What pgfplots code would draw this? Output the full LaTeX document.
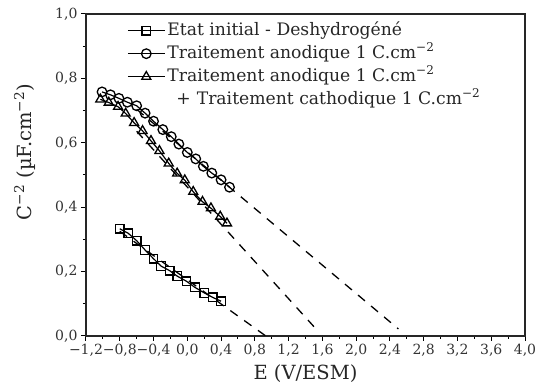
\documentclass[border=0pt]{standalone}
\usepackage{fontspec}
\setmainfont{DejaVu Serif}
\usepackage{pgfplots}
\pgfplotsset{compat=1.18}
\begin{document}
\begin{tikzpicture}
\useasboundingbox (0,0) rectangle (545pt,390pt);
\begin{axis}[
  at={(86pt,54pt)}, anchor=south west,
  scale only axis, width=439pt, height=322pt,
  xmin=-1.2, xmax=4.0, ymin=0, ymax=1.0,
  xtick={-1.2,-0.8,-0.4,0,0.4,0.8,1.2,1.6,2.0,2.4,2.8,3.2,3.6,4.0},
  xticklabels={{−1,2},{−0,8},{−0,4},{0,0},{0,4},{0,8},{1,2},{1,6},{2,0},{2,4},{2,8},{3,2},{3,6},{4,0}},
  ytick={0,0.2,0.4,0.6,0.8,1.0},
  yticklabels={{0,0},{0,2},{0,4},{0,6},{0,8},{1,0}},
  minor x tick num=1, minor y tick num=1,
  tick align=outside, xtick pos=left, ytick pos=left,
  major tick length=5pt, minor tick length=3pt,
  every tick/.style={black, line width=1pt},
  axis line style={line width=1.3pt, black!85},
  tick label style={font=\fontsize{14}{16}\selectfont, text=black!80},
  xlabel={E (V/ESM)},
  ylabel={C\textsuperscript{−2} (µF.cm\textsuperscript{−2})},
  label style={font=\fontsize{19.5}{22}\selectfont, text=black!85},
  xlabel style={at={(axis description cs:0.5,0)}, anchor=center, yshift=-38pt},
  ylabel style={at={(axis description cs:-0.139,0.571)}, anchor=center},
  legend style={at={(axis description cs:0,1)}, anchor=north west, xshift=38pt, yshift=-3pt,
    draw=none, fill=none, font=\fontsize{17.2}{19}\selectfont, row sep=0pt,
    nodes={inner ysep=2pt, text height=14pt, text depth=5pt, text=black!85}},
  legend cell align=left,
  legend image code/.code={\draw[mark repeat=2,mark phase=2] plot coordinates {(0pt,0pt) (18.5pt,0pt) (37pt,0pt)};},
]
\addplot[black, line width=1.2pt, mark=square, mark size=4.3pt, mark options={solid, line width=1.3pt}] coordinates {
(-0.80,0.333) (-0.70,0.319) (-0.60,0.296) (-0.50,0.267) (-0.40,0.240) (-0.31,0.217) (-0.21,0.203)
(-0.12,0.186) (-0.01,0.170) (0.09,0.151) (0.20,0.134) (0.30,0.120) (0.40,0.108)};
\addlegendentry{Etat initial - Deshydrogéné}
\addplot[black, line width=1.2pt, mark=o, mark size=4.8pt, mark options={solid, line width=1.3pt}] coordinates {
(-1.01,0.758) (-0.91,0.749) (-0.81,0.738) (-0.71,0.726) (-0.60,0.715) (-0.50,0.692) (-0.40,0.667)
(-0.29,0.641) (-0.19,0.619) (-0.10,0.596) (0.00,0.570) (0.10,0.550) (0.19,0.527) (0.29,0.506)
(0.40,0.485) (0.50,0.462)};
\addlegendentry{Traitement anodique 1 C.cm\textsuperscript{−2}}
\addplot[black, line width=1.2pt, mark=triangle, mark size=5.2pt, mark options={solid, line width=1.3pt}] coordinates {
(-1.03,0.735) (-0.93,0.725) (-0.82,0.712) (-0.73,0.691) (-0.63,0.662) (-0.53,0.637) (-0.43,0.606)
(-0.33,0.575) (-0.22,0.536) (-0.12,0.505) (-0.03,0.484) (0.07,0.448) (0.18,0.417) (0.28,0.397)
(0.39,0.371) (0.47,0.350)};
\addlegendentry{Traitement anodique 1 C.cm\textsuperscript{−2}}
\addlegendimage{empty legend}
\addlegendentry{\hspace{9pt}+\hspace{6pt}Traitement cathodique 1 C.cm\textsuperscript{−2}}
\addplot[forget plot, black, line width=1.3pt, dash pattern=on 9pt off 8pt] coordinates {(-0.80,0.325) (0.93,0.0)};
\addplot[forget plot, black, line width=1.3pt, dash pattern=on 9pt off 8pt] coordinates {(-0.60,0.636) (1.50,0.029)};
\addplot[forget plot, black, line width=1.3pt, dash pattern=on 9pt off 8pt] coordinates {(-0.60,0.704) (2.50,0.022)};
\end{axis}
\end{tikzpicture}
\end{document}
